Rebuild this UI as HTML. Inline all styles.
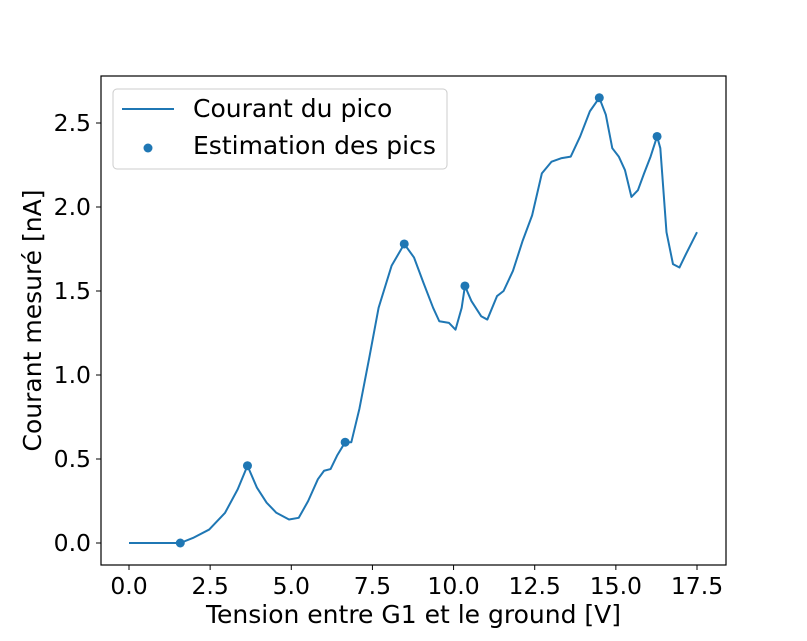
<!DOCTYPE html>
<html><head><meta charset="utf-8"><style>body{margin:0;background:#fff}svg text{font-family:"DejaVu Sans","Liberation Sans",sans-serif;fill:#000}</style></head>
<body>
<svg id="c" width="807" height="636"></svg>
<script>
const xs=[0,0.49,0.99,1.48,1.58,1.97,2.47,2.96,3.35,3.65,3.94,4.24,4.54,4.93,5.23,5.52,5.82,6.01,6.21,6.41,6.66,6.85,7.1,7.4,7.69,8.09,8.48,8.78,9.07,9.37,9.56,9.86,10.06,10.25,10.35,10.55,10.85,11.04,11.34,11.54,11.83,12.13,12.42,12.72,13.02,13.31,13.61,13.9,14.2,14.49,14.69,14.89,15.09,15.28,15.48,15.68,15.87,16.07,16.27,16.37,16.56,16.76,16.96,17.16,17.5];
const ys=[0,0,0,0,0,0.03,0.08,0.18,0.32,0.46,0.33,0.24,0.18,0.14,0.15,0.25,0.38,0.43,0.44,0.52,0.6,0.6,0.8,1.1,1.4,1.65,1.78,1.7,1.55,1.4,1.32,1.31,1.27,1.4,1.53,1.44,1.35,1.33,1.47,1.5,1.62,1.8,1.95,2.2,2.27,2.29,2.3,2.42,2.57,2.65,2.55,2.35,2.3,2.22,2.06,2.1,2.2,2.3,2.42,2.35,1.85,1.66,1.64,1.72,1.85];
const peakX=[1.58,3.65,6.66,8.48,10.35,14.49,16.27];
const peakY=[0,0.46,0.6,1.78,1.53,2.65,2.42];
const xTicks=[0,2.5,5,7.5,10,12.5,15,17.5];
const yTicks=[0,0.5,1,1.5,2,2.5];
const L=101,R=726,T=76,B=565;
const X=v=>129+v*(697-129)/17.5, Y=v=>543-v*(543-123)/2.5;
const svg=document.getElementById('c');const NS='http://www.w3.org/2000/svg';
function mk(t,a,txt){const e=document.createElementNS(NS,t);for(const k in a)e.setAttribute(k,a[k]);if(txt!==undefined)e.textContent=txt;svg.appendChild(e);return e;}
let e=mk('rect',{x:L,y:T,width:R-L,height:B-T,fill:'none',stroke:'#000','stroke-width':1.2});


xTicks.forEach(v=>{mk('line',{x1:X(v),x2:X(v),y1:B,y2:B+5,stroke:'#000'});
 e=mk('text',{x:X(v),y:B+29,'text-anchor':'middle','font-size':23.5},v.toFixed(1));
 
 });
yTicks.forEach(v=>{mk('line',{x1:L-5,x2:L,y1:Y(v),y2:Y(v),stroke:'#000'});
 e=mk('text',{x:L-10,y:Y(v)+8,'text-anchor':'end','font-size':23.5},v.toFixed(1));
 
 });
e=mk('text',{x:(L+R)/2,y:623,'text-anchor':'middle','font-size':25},'Tension entre G1 et le ground [V]');


e=mk('text',{x:41,y:(T+B)/2,'text-anchor':'middle','font-size':25,transform:`rotate(-90 41 ${(T+B)/2})`},'Courant mesuré [nA]');


e=mk('polyline',{points:xs.map((x,i)=>X(x)+','+Y(ys[i])).join(' '),fill:'none',stroke:'#1f77b4','stroke-width':2,'stroke-linejoin':'round'});


peakX.forEach((x,i)=>{e=mk('circle',{cx:X(x),cy:Y(peakY[i]),r:4.5,fill:'#1f77b4'});
 
 });
e=mk('rect',{x:113,y:89,width:334,height:80,rx:4,fill:'#fff',stroke:'#ccc'});


mk('line',{x1:122,x2:174,y1:109,y2:109,stroke:'#1f77b4','stroke-width':2});
mk('circle',{cx:148,cy:148,r:4.5,fill:'#1f77b4'});
e=mk('text',{x:193,y:117,'font-size':25},'Courant du pico');


e=mk('text',{x:193,y:154,'font-size':25},'Estimation des pics');


</script>
</body></html>
